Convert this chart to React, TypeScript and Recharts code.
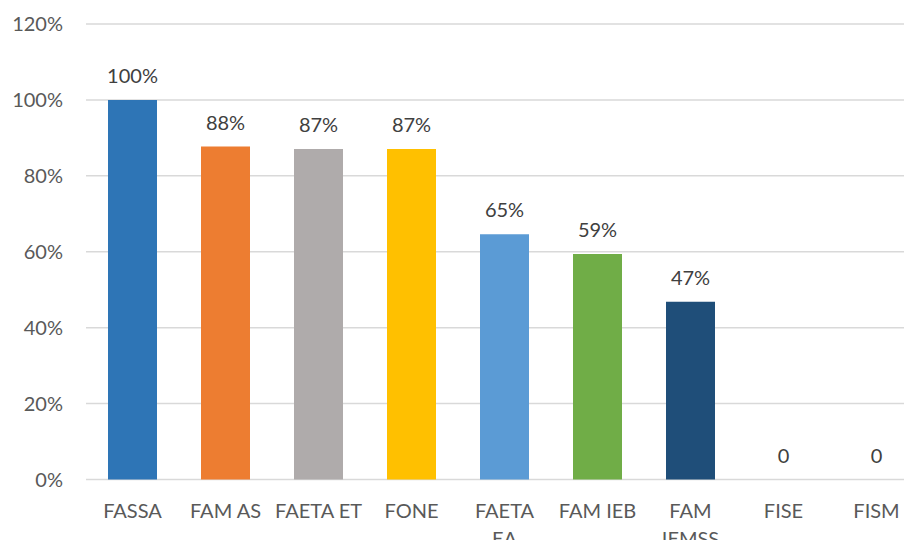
import React from "react";
import { ComposedChart, Bar, Line, XAxis, YAxis, CartesianGrid, Cell, LabelList } from "recharts";

// categories, values (% of total) and bar colours
const categories = ["FASSA", "FAM AS", "FAETA ET", "FONE", "FAETA EA", "FAM IEB", "FAM IEMSS", "FISE", "FISM"];
const values = [100, 87.7, 87.1, 87.1, 64.6, 59.4, 46.8, 0, 0];
const colors = ["#2E75B6", "#ED7D31", "#AFABAB", "#FFC000", "#5B9BD5", "#70AD47", "#1F4E79", "#A5A5A5", "#A5A5A5"];
const yTicks = [0, 20, 40, 60, 80, 100, 120];

const data = categories.map((name, i) => ({ name, value: values[i] }));

const FONT = "Lato, 'Liberation Sans', sans-serif";

// wraps two-word labels the way the original does (FAETA / EA, FAM / IEMSS)
const wrapLabel = (s: string): string[] => {
  if (s === "FAETA EA") return ["FAETA", "EA"];
  if (s === "FAM IEMSS") return ["FAM", "IEMSS"];
  return [s];
};

const CategoryTick = (props: any) => {
  const { x, y, payload } = props;
  const lines = wrapLabel(payload.value);
  return (
    <text x={x} y={y} textAnchor="middle" fill="#595959" fontSize={20} fontFamily={FONT}>
      {lines.map((l, i) => (
        <tspan key={i} x={x} dy={i === 0 ? 36 : 28.5}>
          {l}
        </tspan>
      ))}
    </text>
  );
};

const fmtLabel = (v: any) => (Number(v) === 0 ? "0" : `${Math.round(Number(v))}%`);

export default function App() {
  return (
    <div style={{ margin: -8, width: 912, height: 548, overflow: "hidden", background: "#fff" }}>
      <ComposedChart
        width={930}
        height={548}
        data={data}
        margin={{ top: 24, right: 7, bottom: 0, left: 0 }}
        barSize={49}
      >
        <CartesianGrid vertical={false} stroke="#D9D9D9" strokeWidth={1.5} />
        <XAxis
          dataKey="name"
          height={68.5}
          axisLine={false}
          tickLine={false}
          tickSize={0}
          interval={0}
          tick={<CategoryTick />}
        />
        <YAxis
          width={86}
          domain={[0, 120]}
          ticks={yTicks}
          axisLine={false}
          tickLine={false}
          tickSize={0}
          tickMargin={23}
          tickFormatter={(v) => `${v}%`}
          tick={{ fill: "#595959", fontSize: 20, fontFamily: FONT }}
        />
        <Bar dataKey="value" isAnimationActive={false}>
          {data.map((d, i) => (
            <Cell key={d.name} fill={colors[i]} />
          ))}
        </Bar>
        {/* invisible line carrying the value labels, so the zero bars get their "0" too */}
        <Line
          dataKey="value"
          stroke="none"
          dot={false}
          activeDot={false}
          legendType="none"
          isAnimationActive={false}
        >
          <LabelList
            dataKey="value"
            position="top"
            offset={17}
            formatter={fmtLabel}
            fill="#404040"
            fontSize={20}
            fontFamily={FONT}
          />
        </Line>
      </ComposedChart>
    </div>
  );
}
